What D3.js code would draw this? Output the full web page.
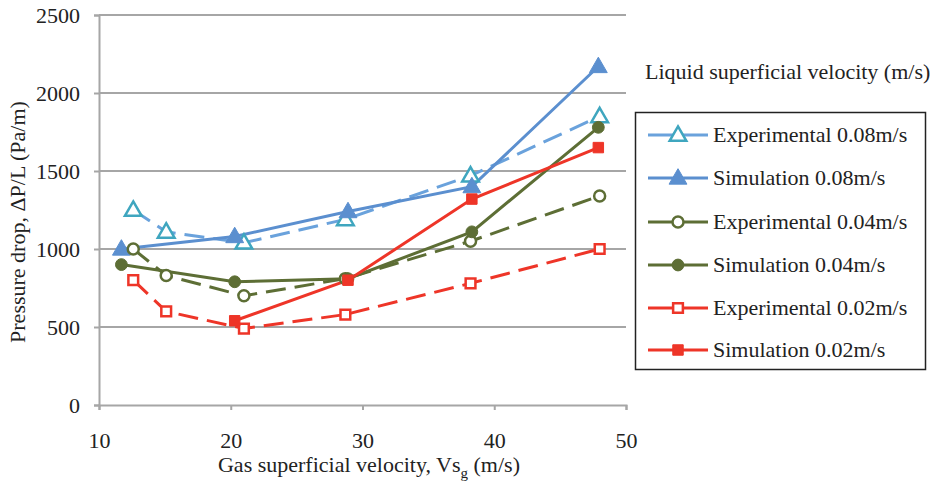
<!DOCTYPE html>
<html>
<head>
<meta charset="utf-8">
<script src="https://cdn.jsdelivr.net/npm/d3@7"></script>
<style>
  body { margin: 0; background: #fff; }
  text { font-family: "Liberation Serif", "Times New Roman", serif; fill: #222; }
</style>
</head>
<body>
<div id="chart"></div>
<script>
// Data
const expX = [12.6, 15.1, 21.0, 28.7, 38.2, 48.0];
const simX = [11.7, 20.3, 28.9, 38.3, 47.9];

const exp008 = [1250, 1110, 1040, 1190, 1470, 1850];
const sim008 = [1000, 1080, 1240, 1400, 2170];
const exp004 = [1000, 830, 700, 810, 1050, 1340];
const sim004 = [900, 790, 810, 1110, 1780];
const exp002 = [800, 600, 490, 580, 780, 1000];
const sim002 = [null, 540, 800, 1320, 1650];

const xTicks = [10, 20, 30, 40, 50];
const yTicks = [0, 500, 1000, 1500, 2000, 2500];

const series = [
    { name: "Experimental 0.08m/s", xs: expX, ys: exp008, line: "#6aa2dc", mark: "#3fa6bf", shape: "triangle", filled: false, dashed: true },
    { name: "Simulation 0.08m/s", xs: simX, ys: sim008, line: "#5b8fcf", mark: "#5b8fcf", shape: "triangle", filled: true, dashed: false },
    { name: "Experimental 0.04m/s", xs: expX, ys: exp004, line: "#5d6e35", mark: "#5d6e35", shape: "circle", filled: false, dashed: true },
    { name: "Simulation 0.04m/s", xs: simX, ys: sim004, line: "#5d6e35", mark: "#5d6e35", shape: "circle", filled: true, dashed: false },
    { name: "Experimental 0.02m/s", xs: expX, ys: exp002, line: "#ee3528", mark: "#ee3528", shape: "square", filled: false, dashed: true },
    { name: "Simulation 0.02m/s", xs: simX, ys: sim002, line: "#ee3528", mark: "#ee3528", shape: "square", filled: true, dashed: false }
];

const width = 940, height = 486;
const plot = { left: 99, right: 626, top: 15, bottom: 405 };

const svg = d3.select("#chart").append("svg")
    .attr("width", width)
    .attr("height", height);

const x = d3.scaleLinear().domain([10, 50]).range([plot.left, plot.right]);
const y = d3.scaleLinear().domain([0, 2500]).range([plot.bottom, plot.top]);

// gridlines
svg.append("g").selectAll("line")
    .data(yTicks.filter(d => d > 0))
    .enter().append("line")
    .attr("x1", plot.left).attr("x2", plot.right)
    .attr("y1", d => y(d)).attr("y2", d => y(d))
    .attr("stroke", "#a6a6a6").attr("stroke-width", 2);

// axes
const yAxis = svg.append("g")
    .attr("transform", `translate(${plot.left},0)`)
    .call(d3.axisLeft(y).tickValues(yTicks).tickFormat(d3.format("d")).tickSize(5).tickPadding(14));
const xAxis = svg.append("g")
    .attr("transform", `translate(0,${plot.bottom})`)
    .call(d3.axisBottom(x).tickValues(xTicks).tickFormat(d3.format("d")).tickSize(5).tickPadding(22));

[xAxis, yAxis].forEach(g => {
    g.select(".domain").attr("stroke", "#a6a6a6").attr("stroke-width", 2);
    g.selectAll(".tick line").attr("stroke", "#a6a6a6").attr("stroke-width", 2);
    g.selectAll(".tick text")
        .style("font-family", "'Liberation Serif', serif")
        .style("font-size", "22px")
        .attr("fill", "#333");
});

// axis titles
svg.append("text")
    .attr("transform", `translate(25,222) rotate(-90)`)
    .attr("text-anchor", "middle")
    .style("font-size", "22px")
    .text("Pressure drop, ΔP/L (Pa/m)");

const xt = svg.append("text")
    .attr("x", 369)
    .attr("y", 472)
    .attr("text-anchor", "middle")
    .style("font-size", "22px");
xt.append("tspan").text("Gas superficial velocity, Vs");
xt.append("tspan").attr("dy", 6).style("font-size", "15px").text("g");
xt.append("tspan").attr("dy", -6).text(" (m/s)");

// markers
const symbolType = { triangle: d3.symbolTriangle, circle: d3.symbolCircle, square: d3.symbolSquare };
const symbolSize = { triangle: 120, circle: 95, square: 95 };

function drawMarker(g, s, cx, cy) {
    const sym = d3.symbol().type(symbolType[s.shape]).size(s.filled ? symbolSize[s.shape] * 1.15 : symbolSize[s.shape]);
    g.append("path")
        .attr("d", sym())
        .attr("transform", `translate(${cx},${cy + (s.shape === "triangle" ? 1 : 0)})`)
        .attr("fill", s.filled ? s.mark : "#fff")
        .attr("stroke", s.mark)
        .attr("stroke-width", s.filled ? 1 : 2.5);
}

const line = d3.line()
    .defined(d => d[1] != null)
    .x(d => x(d[0]))
    .y(d => y(d[1]));

const seriesG = svg.append("g");
series.forEach(s => {
    const pts = s.xs.map((v, i) => [v, s.ys[i]]);
    seriesG.append("path")
        .datum(pts)
        .attr("d", line)
        .attr("fill", "none")
        .attr("stroke", s.line)
        .attr("stroke-width", 3)
        .attr("stroke-dasharray", s.dashed ? "20,9" : null);
});
series.forEach(s => {
    const g = seriesG.append("g");
    s.xs.forEach((v, i) => {
        if (s.ys[i] != null) drawMarker(g, s, x(v), y(s.ys[i]));
    });
});

// legend
svg.append("text")
    .attr("x", 645).attr("y", 79)
    .style("font-size", "22px")
    .text("Liquid superficial velocity (m/s)");

svg.append("rect")
    .attr("x", 635.5).attr("y", 112.5)
    .attr("width", 290).attr("height", 257)
    .attr("fill", "#fff")
    .attr("stroke", "#222").attr("stroke-width", 1.5);

const rowY = [135, 178, 222, 265, 308, 350];
series.forEach((s, i) => {
    const g = svg.append("g").attr("transform", `translate(0,${rowY[i]})`);
    g.append("line")
        .attr("x1", 648).attr("x2", 708)
        .attr("stroke", s.line).attr("stroke-width", 3);
    drawMarker(g, s, 678, 0);
    g.append("text")
        .attr("x", 713).attr("y", 7)
        .style("font-size", "22px")
        .text(s.name);
});
</script>
</body>
</html>
